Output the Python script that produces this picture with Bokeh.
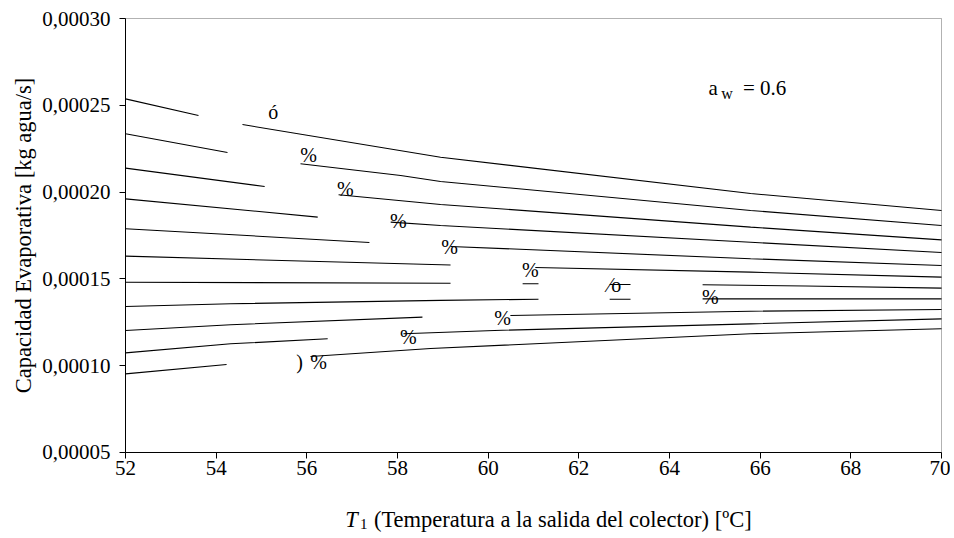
import math
from bokeh.plotting import figure
from bokeh.models import FixedTicker, CustomJSTickFormatter, Label, ColumnDataSource, BoxAnnotation
from bokeh.core.properties import value
from bokeh.embed import file_html
from bokeh.resources import INLINE

NaN = float("nan")
FONT = "Liberation Serif"

# ---- data: each curve (NaN = gap where the contour label sits) ----
c1_x = [52, 53.61, NaN, 54.58, 58.95, 65.79, 70]
c1_y = [0.0002537, 0.0002441, NaN, 0.0002389, 0.0002201, 0.0001992, 0.0001894]
c2_x = [52, 54.25, NaN, 55.86, 58.07, 58.95, 65.79, 70]
c2_y = [0.0002336, 0.0002228, NaN, 0.0002163, 0.0002096, 0.0002061, 0.0001894, 0.0001808]
c3_x = [52, 55.07, NaN, 56.70, 58.95, 65.79, 70]
c3_y = [0.0002138, 0.0002032, NaN, 0.0001985, 0.0001929, 0.0001798, 0.0001725]
c4_x = [52, 56.24, NaN, 57.85, 58.95, 65.79, 70]
c4_y = [0.0001961, 0.0001856, NaN, 0.0001827, 0.0001808, 0.0001711, 0.0001652]
c5_x = [52, 57.38, NaN, 59.17, 65.79, 70]
c5_y = [0.0001789, 0.0001710, NaN, 0.0001687, 0.0001616, 0.0001577]
c6_x = [52, 55.86, 59.17, NaN, 61.04, 65.79, 70]
c6_y = [0.0001631, 0.0001603, 0.0001580, NaN, 0.0001566, 0.0001539, 0.0001510]
c7_x = [52, 59.17, NaN, 60.76, 61.11, NaN, 62.68, 63.14, NaN, 64.73, 67.0, 70]
c7_y = [0.0001481, 0.0001475, NaN, 0.0001472, 0.0001472, NaN, 0.0001468, 0.0001468, NaN, 0.0001466, 0.0001459, 0.0001447]
c8_x = [52, 54.32, 58.95, 61.11, NaN, 62.68, 63.14, NaN, 64.73, 70]
c8_y = [0.0001341, 0.0001357, 0.0001376, 0.0001383, NaN, 0.0001383, 0.0001383, NaN, 0.0001385, 0.0001385]
c9_x = [52, 54.32, 58.55, NaN, 60.49, 65.79, 70]
c9_y = [0.0001203, 0.0001236, 0.0001280, NaN, 0.0001289, 0.0001314, 0.0001324]
c10_x = [52, 54.32, 56.46, NaN, 58.13, 60.14, 65.79, 70]
c10_y = [0.0001074, 0.0001126, 0.0001155, NaN, 0.0001184, 0.0001203, 0.0001241, 0.0001270]
c11_x = [52, 54.23, NaN, 56.08, 58.73, 65.79, 70]
c11_y = [0.0000953, 0.0001007, NaN, 0.0001053, 0.0001099, 0.0001184, 0.0001213]

curves_x = [c1_x, c2_x, c3_x, c4_x, c5_x, c6_x, c7_x, c8_x, c9_x, c10_x, c11_x]
curves_y = [c1_y, c2_y, c3_y, c4_y, c5_y, c6_y, c7_y, c8_y, c9_y, c10_y, c11_y]

# contour labels (partly hidden in the original)
label_text = ["ó", "%", "%", "%", "%", "%", "⁄o", "%", "%", "%", ")", "%"]
label_x = [55.26, 56.04, 56.85, 58.02, 59.15, 60.93, 62.79, 64.90, 60.32, 58.24, 55.84, 56.26]
label_y = [0.0002464, 0.0002211, 0.0002015, 0.0001831, 0.0001681, 0.0001549, 0.0001462,
           0.0001393, 0.0001272, 0.0001168, 0.0001024, 0.0001024]

x_ticks = [52, 54, 56, 58, 60, 62, 64, 66, 68, 70]
y_ticks = [0.00005, 0.00010, 0.00015, 0.00020, 0.00025, 0.00030]
x_lo, x_hi = 52, 70
y_lo, y_hi = 0.00005, 0.0003

x_title_var = "T"
x_title_sub = "1"
x_title_rest = "(Temperatura a la salida del colector) [ºC]"
y_title = "Capacidad Evaporativa [kg agua/s]"

# The plotting frame covers the whole canvas; the chart box (52..70, 0.00005..0.0003)
# sits inside it, with both axes pinned to the box edges so nothing is clipped.
p = figure(width=950, height=536, x_range=(49.2426, 70.1985), y_range=(0.00000161, 0.00031037),
           output_backend="svg", toolbar_location=None,
           min_border_left=0, min_border_right=0, min_border_top=0, min_border_bottom=0)
p.title.visible = False
p.background_fill_color = "white"
p.border_fill_color = "white"
p.outline_line_color = None
p.xgrid.visible = False
p.ygrid.visible = False

# chart box
p.add_layout(BoxAnnotation(left=x_lo, right=x_hi, bottom=y_lo, top=y_hi,
                           fill_color=None, fill_alpha=0, line_color="black", line_width=1))

for xs, ys in zip(curves_x, curves_y):
    p.line(xs, ys, line_color="black", line_width=1.1)

src = ColumnDataSource(dict(x=label_x, y=label_y, t=label_text))
p.text(x="x", y="y", text="t", source=src, text_font=value(FONT), text_font_size="20px",
       text_align="center", text_baseline="middle", text_color="black")

# axes
for ax in (p.xaxis[0], p.yaxis[0]):
    ax.axis_line_color = "black"
    ax.major_tick_line_color = "black"
    ax.major_tick_out = 6
    ax.major_tick_in = 0
    ax.minor_tick_line_color = None
    ax.major_label_text_font = FONT
    ax.major_label_text_font_size = "21px"
    ax.major_label_text_color = "black"
    ax.axis_label_text_font = FONT
    ax.axis_label_text_font_style = "normal"
    ax.axis_label_text_font_size = "22.5px"
    ax.axis_label_text_color = "black"

p.xaxis.ticker = FixedTicker(ticks=x_ticks)
p.xaxis.fixed_location = y_lo
p.xaxis.bounds = (x_lo, x_hi)
p.yaxis.ticker = FixedTicker(ticks=y_ticks)
p.yaxis.fixed_location = x_lo
p.yaxis.bounds = (y_lo, y_hi)
p.yaxis.formatter = CustomJSTickFormatter(code="return tick.toFixed(5).replace('.', ',');")
p.xaxis.major_label_standoff = 3
p.yaxis.major_label_standoff = 9
p.yaxis.axis_label = y_title
p.yaxis.axis_label_standoff = 3

# x-axis title: italic T, subscript 1, then the rest
ty = 0.0000114
p.add_layout(Label(x=56.85, y=ty, text=x_title_var, text_font=FONT, text_font_style="italic",
                   text_font_size="22.5px", text_baseline="middle", text_align="left", text_color="black"))
p.add_layout(Label(x=57.17, y=ty - 0.0000028, text=x_title_sub, text_font=FONT,
                   text_font_size="15px", text_baseline="middle", text_align="left", text_color="black"))
p.add_layout(Label(x=57.48, y=ty, text=x_title_rest, text_font=FONT,
                   text_font_size="22.5px", text_baseline="middle", text_align="left", text_color="black"))

# annotation a_w = 0.6
p.add_layout(Label(x=64.86, y=0.0002597, text="a", text_font=FONT, text_font_size="21px",
                   text_baseline="middle", text_align="left", text_color="black"))
p.add_layout(Label(x=65.14, y=0.0002568, text="w", text_font=FONT, text_font_size="16px",
                   text_baseline="middle", text_align="left", text_color="black"))
p.add_layout(Label(x=65.62, y=0.0002597, text="= 0.6", text_font=FONT, text_font_size="21px",
                   text_baseline="middle", text_align="left", text_color="black"))

open("out.html", "w").write(file_html(p, INLINE))
